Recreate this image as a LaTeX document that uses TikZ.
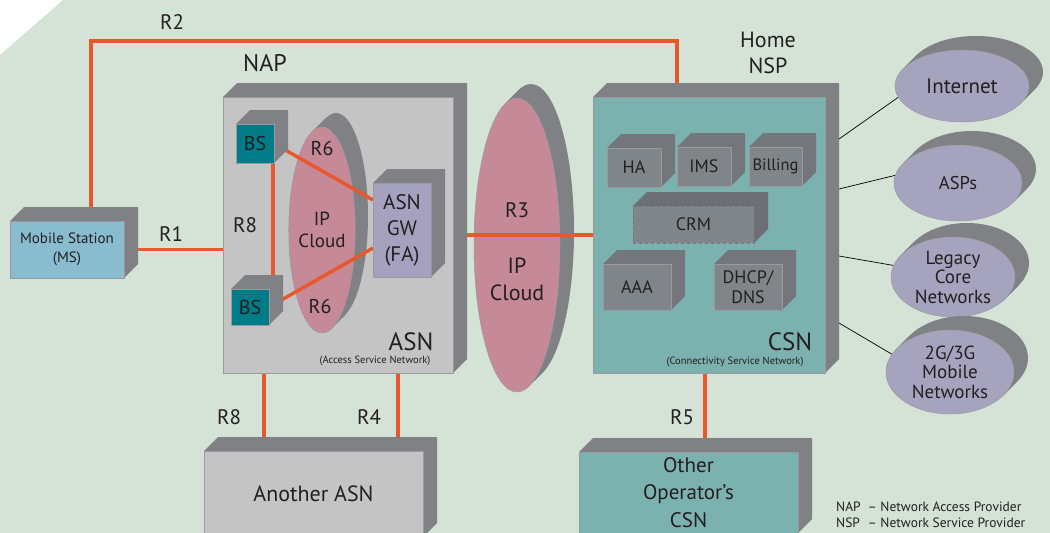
\documentclass[tikz,border=0pt]{standalone}
\usepackage{fontspec}
\setmainfont{PT Sans}
\usetikzlibrary{shapes.geometric,patterns}
\definecolor{bg}{HTML}{D5E2D6}
\definecolor{rorange}{HTML}{E8582C}
\definecolor{side}{HTML}{808185}
\definecolor{asnfill}{HTML}{C4C4C4}
\definecolor{bsteal}{HTML}{007C89}
\definecolor{msblue}{HTML}{8ABCD0}
\definecolor{gwlav}{HTML}{A5A2C0}
\definecolor{cloudpink}{HTML}{C58998}
\definecolor{csnteal}{HTML}{7BB1AE}
\definecolor{inner}{HTML}{80858A}
\definecolor{innerside}{HTML}{73777B}
\definecolor{innerdark}{HTML}{5E6266}
\definecolor{edgegray}{HTML}{9A9A9E}
\definecolor{netlav}{HTML}{A6A3BF}
\definecolor{txt}{HTML}{231F20}
\pgfdeclarelayer{bgl}
\pgfdeclarelayer{lines}
\pgfdeclarelayer{top}
\pgfsetlayers{bgl,lines,main,top}
\newcommand{\myfs}[2]{\fontsize{#1}{#2}\selectfont}
\tikzset{
  rl/.style={draw=rorange, line width=3.5pt},
  blk/.style={draw=black, line width=0.7pt},
  cubefront/.style={draw=edgegray, line width=0.6pt, inner sep=0pt, outer sep=0pt, align=center, text=txt},
  discfront/.style={ellipse, draw=edgegray, line width=0.5pt, inner sep=0pt, outer sep=0pt, align=center, text=txt},
  lbl/.style={text=txt, inner sep=0pt, align=center},
}
% [opts]{name}{x1}{y1}{x2}{y2}{side options}{text}
\newcommand{\mycube}[8][]{%
  \fill[#7] (#3,#4) -- ++(14,-14) -- ({#5+14},{#4-14}) -- ({#5+14},{#6-14}) -- (#5,#6) -- (#5,#4) -- cycle;
  \node[cubefront, minimum width={(#5-#3)*1pt}, minimum height={(#6-#4)*1pt}, #1] (#2) at ({(#3+#5)/2},{(#4+#6)/2}) {#8};
}
% [opts]{name}{cx}{cy}{rx}{ry}{back colour}{text}
\newcommand{\mydisc}[8][]{%
  \foreach \t in {1,...,14} {\fill[#7] ({#3+\t},{#4-\t}) ellipse [x radius=#5pt, y radius=#6pt];}
  \node[discfront, minimum width={2*#5*1pt}, minimum height={2*#6*1pt}, #1] (#2) at (#3,#4) {#8};
}
\begin{document}
\begin{tikzpicture}[x=1pt,y=-1pt]
\useasboundingbox (0,0) rectangle (1050,533);
\begin{pgfonlayer}{bgl}
  \fill[white] (0,0) rectangle (1050,533);
  \fill[bg] (63,0) -- (1050,0) -- (1050,533) -- (0,533) -- (0,55) -- cycle;
  \mydisc[fill=cloudpink]{cloud2}{517}{245}{43}{147}{side}{}
\end{pgfonlayer}

% Mobile station and ASN
\mycube[fill=msblue, font=\myfs{15}{19}]{ms}{10}{221}{124}{278}{side}{Mobile Station\\(MS)}
\mycube[fill=asnfill]{asn}{223}{97}{453}{373}{side}{}
\mydisc[fill=cloudpink, font=\myfs{19}{22}]{cloud1}{322}{230}{32}{103}{side}{IP\\Cloud}
\begin{pgfonlayer}{top}
  \mycube[fill=bsteal, font=\myfs{20}{22}]{bs1}{236}{124}{274}{163}{side}{BS}
  \mycube[fill=bsteal, font=\myfs{20}{22}]{bs2}{231}{289}{269}{325}{side}{BS}
  \mycube[fill=gwlav, font=\myfs{21}{26}]{gw}{373}{183}{431}{277}{side}{ASN\\GW\\(FA)}
\end{pgfonlayer}
\draw[rl] (bs1.east) -- ([yshift=30pt]gw.west);
\draw[rl] (bs2.east) -- ([yshift=-18pt]gw.west);
\coordinate (r8in) at ([xshift=18pt]bs1.south);
\draw[rl] (r8in) -- (r8in |- bs2.north);

% CSN
\mycube[fill=csnteal]{csn}{593}{97}{825}{373}{side}{}
\mycube[fill=inner, font=\myfs{18}{20}]{ha}{607}{148}{661}{187}{innerside}{HA}
\mycube[fill=inner, font=\myfs{18}{20}]{ims}{677}{147}{731}{186}{innerside}{IMS}
\mycube[fill=inner, font=\myfs{16.5}{20}]{billing}{749}{147}{802}{186}{innerside}{Billing}
\mycube[fill=inner, dashed, draw=innerside, font=\myfs{18}{20}]{crm}{633}{206}{754}{243}{{fill=innerside, postaction={pattern=north east lines, pattern color=innerdark}}}{CRM}
\mycube[fill=inner, font=\myfs{18}{20}]{aaa}{603}{264}{671}{310}{innerside}{AAA}
\mycube[fill=inner, font=\myfs{18}{20}]{dhcp}{714}{264}{782}{310}{innerside}{DHCP/\\DNS}

% external networks
\mydisc[fill=netlav, font=\myfs{21}{22}]{internet}{962}{86}{67}{36}{side}{Internet}
\mydisc[fill=netlav, font=\myfs{18.5}{20}]{asps}{958}{183}{64}{38}{side}{ASPs}
\mydisc[fill=netlav, font=\myfs{19}{19.5}]{legacy}{953}{277}{62}{40}{side}{Legacy\\Core\\Networks}
\mydisc[fill=netlav, font=\myfs{19}{19.5}]{mobile}{950}{372}{64}{42}{side}{2G/3G\\Mobile\\Networks}

% bottom boxes
\mycube[fill=asnfill, font=\myfs{22}{26}]{aasn}{204}{451}{423}{537}{side}{Another ASN}
\mycube[fill=csnteal, font=\myfs{21}{27.5}]{ocsn}{579}{452}{798}{533}{side}{Other\\Operator’s\\CSN}

% connectors behind boxes
\begin{pgfonlayer}{lines}
  \coordinate (r2y) at (0,41);
  \coordinate (msr2) at ([xshift=24pt]ms.north);
  \coordinate (csnr2) at ([xshift=-32pt]csn.north);
  \draw[rl] (msr2) -- (msr2 |- r2y) -- (csnr2 |- r2y) -- (csnr2);
  \draw[rl] (ms.east) -- (ms.east -| asn.west);
  \draw[rl] (asn.east) -- (asn.east -| csn.west);
  \coordinate (r8a) at ([xshift=-74pt]asn.south);
  \draw[rl] (r8a) -- (r8a |- aasn.north);
  \coordinate (r4a) at ([xshift=60pt]asn.south);
  \draw[rl] (r4a) -- (r4a |- aasn.north);
  \coordinate (r5a) at ([xshift=-4pt]csn.south);
  \draw[rl] (r5a) -- (r5a |- ocsn.north);
  \coordinate (c1) at ([xshift=14pt,yshift=96pt]csn.east);
  \coordinate (c2) at ([xshift=14pt,yshift=46pt]csn.east);
  \coordinate (c3) at ([xshift=14pt,yshift=-21pt]csn.east);
  \coordinate (c4) at ([xshift=14pt,yshift=-88pt]csn.east);
  \draw[blk] (c1) -- (internet.190);
  \draw[blk] (c2) -- (asps.173);
  \draw[blk] (c3) -- (legacy.169);
  \draw[blk] (c4) -- (mobile.163);
\end{pgfonlayer}

% labels
\node[lbl, font=\myfs{21}{24}] (lr2) at (172,22) {R2};
\node[lbl, font=\myfs{24}{26}] (lnap) at (265,63) {NAP};
\node[lbl, font=\myfs{22}{26}] (lhome) at (768,53) {Home\\NSP};
\node[lbl, font=\myfs{21}{24}] (lr1) at (171,234) {R1};
\node[lbl, font=\myfs{21}{24}] (lr8i) at (245,225) {R8};
\node[lbl, font=\myfs{20}{24}] (lr6a) at (322,148) {R6};
\node[lbl, font=\myfs{20}{24}] (lr6b) at (320,306) {R6};
\node[lbl, font=\myfs{25}{28}] (lasn) at (411,342) {ASN};
\node[lbl, font=\myfs{10.5}{12}] (lasnf) at (375,361) {(Access Service Network)};
\node[lbl, font=\myfs{21}{24}] (lr3) at (517,210) {R3};
\node[lbl, font=\myfs{22}{27}] (lcloud2) at (517,279) {IP\\Cloud};
\node[lbl, font=\myfs{25}{28}] (lcsn) at (790,342) {CSN};
\node[lbl, font=\myfs{10.5}{12}] (lcsnf) at (735,362) {(Connectivity Service Network)};
\node[lbl, font=\myfs{21}{24}] (lr8) at (229,417) {R8};
\node[lbl, font=\myfs{21}{24}] (lr4) at (369,417) {R4};
\node[lbl, font=\myfs{21}{24}] (lr5) at (682,417) {R5};
\node[lbl, anchor=west, font=\myfs{13.5}{16}] (legend) at (836,516) {\begin{tabular}{@{}l@{\ \ }l@{}}NAP & – Network Access Provider\\NSP & – Network Service Provider\end{tabular}};
\end{tikzpicture}
\end{document}
